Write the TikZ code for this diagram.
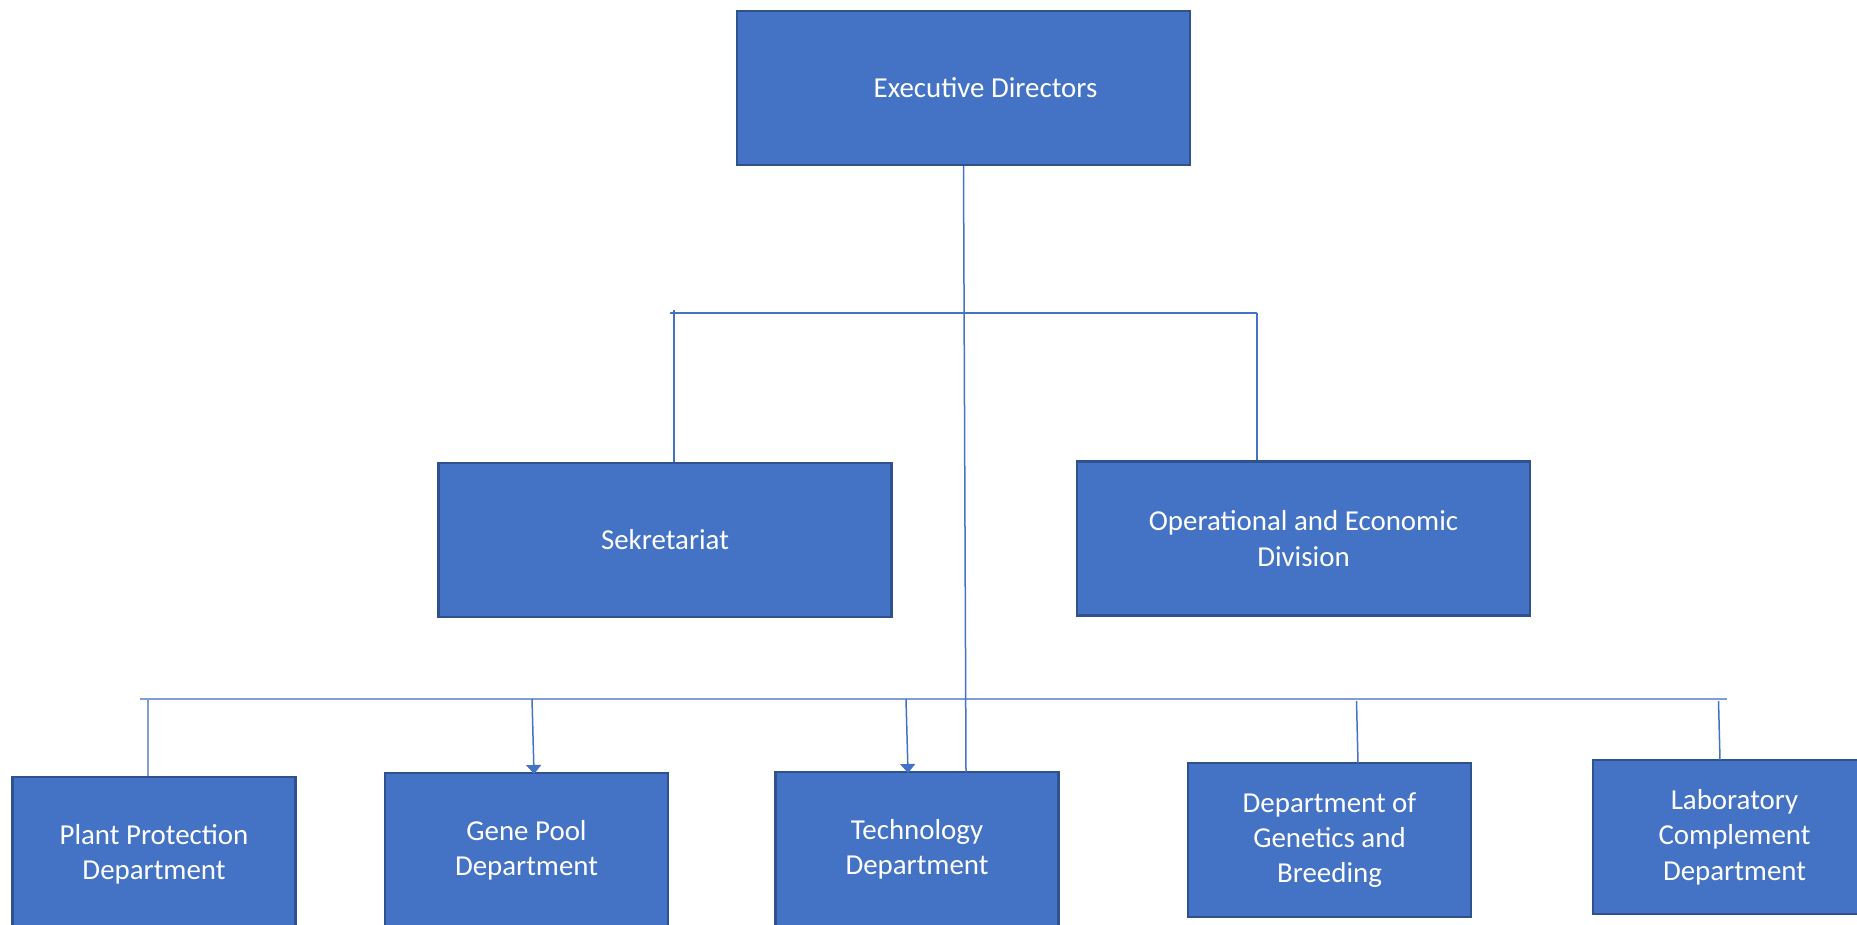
\documentclass[tikz,border=0pt]{standalone}
\usepackage{fontspec}
\setmainfont{Carlito}
\usetikzlibrary{arrows.meta}
\definecolor{boxfill}{HTML}{4472C4}
\definecolor{boxline}{HTML}{2F528F}
\definecolor{conn}{HTML}{4472C4}
\definecolor{connlight}{HTML}{7F9ED8}
\tikzset{
  orgbox/.style={draw=boxline, line width=2.2pt, fill=boxfill, text=white,
    minimum width=283pt, minimum height=154pt, inner sep=0pt, align=center,
    font=\fontsize{28.9}{35.3}\selectfont},
  bigbox/.style={orgbox, minimum width=453pt},
  link/.style={draw=conn, line width=1.5pt},
  lightlink/.style={draw=connlight, line width=1.8pt},
  arrowlink/.style={link, -{Triangle[width=15pt,length=9pt]}, shorten >=-1pt}
}
\begin{document}
\begin{tikzpicture}[x=1pt,y=-1pt]
\useasboundingbox (0,0) rectangle (1857,924);
\clip (0,0) rectangle (1857,924);
% nodes
\node[bigbox] (exec) at (963.5,88) {\hspace*{44pt}Executive Directors};
\node[bigbox] (sek) at (665,540) {Sekretariat};
\node[bigbox] (ops) at (1303.5,538.5) {Operational and Economic\\Division};
\node[orgbox] (plant) at (154,854) {Plant Protection\\Department};
\node[orgbox] (gene) at (526.5,850) {Gene Pool\\Department};
\node[orgbox] (tech) at (917,849) {Technology\\Department};
\node[orgbox] (genet) at (1329.5,840) {Department of\\Genetics and\\Breeding};
\node[orgbox] (lab) at (1734.5,837) {Laboratory\\Complement\\Department};
% junction coordinates
\coordinate (ubL) at (670,313);
\coordinate (ubR) at (1257,313);
\coordinate (sekj) at (674,310);
\coordinate (lbL) at (140,699);
\coordinate (lbR) at (1727,699);
\coordinate (techin) at (966,772);
\coordinate (pj) at (148,699);
\coordinate (gj) at (532,699);
\coordinate (gin) at (534,773);
\coordinate (tj) at (906,699);
\coordinate (tin) at (908,772);
\coordinate (dj) at (1356.5,701);
\coordinate (din) at (1358,763);
\coordinate (lj) at (1718.5,701);
\coordinate (lin) at (1720,760);
% connectors
\draw[link] (ubL) -- (ubR);
\draw[link] (sekj) -- (sekj |- sek.north);
\draw[link] (ubR) -- (ubR |- ops.north);
\draw[lightlink] (lbL) -- (lbR);
\draw[link] (exec.south) -- (techin);
\draw[lightlink] (pj) -- (pj |- plant.north);
\draw[arrowlink] (gj) -- (gin);
\draw[arrowlink] (tj) -- (tin);
\draw[link] (dj) -- (din);
\draw[link] (lj) -- (lin);
\end{tikzpicture}
\end{document}
